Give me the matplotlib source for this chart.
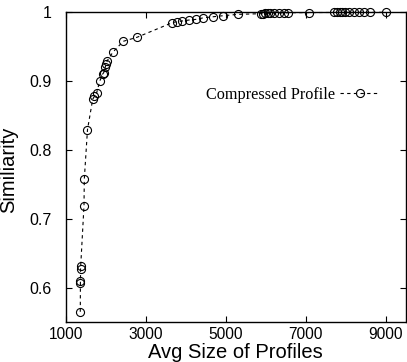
import matplotlib
matplotlib.use("Agg")
import matplotlib.pyplot as plt

avg_size = [1365, 1368, 1370, 1372, 1375, 1458, 1465, 1545, 1675, 1715, 1775,
            1850, 1925, 1950, 1990, 2015, 2040, 2183, 2440, 2783,
            3665, 3775, 3908, 4083, 4265, 4440, 4675, 4925, 5300,
            5880, 5930, 5990, 6050, 6110, 6200, 6330, 6450, 6560, 7090,
            7720, 7790, 7850, 7920, 7990, 8080, 8200, 8330, 8470, 8620, 9000]
similarity = [0.566, 0.608, 0.610, 0.628, 0.632, 0.720, 0.758, 0.830, 0.874, 0.878, 0.8835,
              0.900, 0.9106, 0.9125, 0.921, 0.925, 0.930, 0.9425, 0.958, 0.9638,
              0.985, 0.9864, 0.9874, 0.9888, 0.9898, 0.992, 0.9935, 0.995, 0.997,
              0.998, 0.998, 0.9985, 0.9985, 0.999, 0.999, 0.999, 0.9992, 0.9994, 0.9996,
              0.9998, 0.9998, 0.9998, 0.9999, 0.9999, 0.9999, 1.0, 1.0, 1.0, 1.0, 1.0]
x_ticks = [1000, 3000, 5000, 7000, 9000]
y_ticks = [0.6, 0.7, 0.8, 0.9, 1.0]
y_tick_labels = ["0.6", "0.7", "0.8", "0.9", "1"]

plt.rcParams['font.family'] = ['Liberation Sans', 'DejaVu Sans']

fig = plt.figure(figsize=(4.07, 3.62), dpi=100)
ax = fig.add_axes([0.1614, 0.1113, 0.9968 - 0.1614, 0.966 - 0.1113])

ax.plot(avg_size, similarity, color='black', linewidth=0.8, linestyle=(0, (3, 3)),
        marker='o', markersize=5.8, markerfacecolor='none', markeredgecolor='black',
        markeredgewidth=0.8, label='Compressed Profile', clip_on=False)

ax.set_xlim(1000, 9500)
ax.set_ylim(0.5516, 1.0)
ax.set_xticks(x_ticks)
ax.set_xticklabels([str(t) for t in x_ticks])
ax.set_yticks(y_ticks)
ax.set_yticklabels(y_tick_labels)
ax.tick_params(direction='in', length=4, width=0.8, top=True, right=True,
               labelsize=11.5)
ax.tick_params(axis='y', pad=10)
ax.tick_params(axis='x', pad=4, labelsize=11.2)
for s in ax.spines.values():
    s.set_linewidth(1.0)

ax.set_xlabel('Avg Size of Profiles', fontsize=14.5)
ax.set_ylabel('Similiarity', fontsize=14.5)
ax.yaxis.set_label_coords(-0.14, 0.49)
ax.xaxis.set_label_coords(0.498, -0.069)

leg = ax.legend(loc='center right', bbox_to_anchor=(0.9244, 0.7327), frameon=False,
                markerfirst=False, handlelength=2.45, borderpad=0, borderaxespad=0,
                handletextpad=0.3,
                prop={'family': 'Liberation Serif', 'size': 11.7})

fig.savefig('out.png', dpi=100)
